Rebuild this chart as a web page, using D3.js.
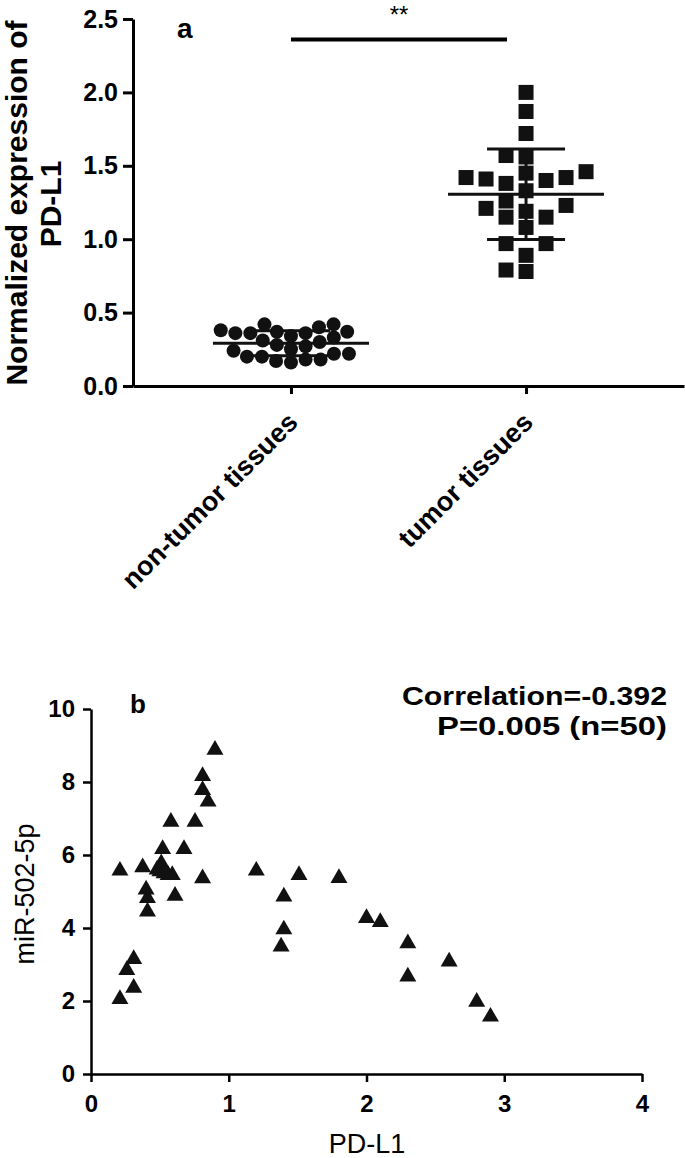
<!DOCTYPE html>
<html>
<head>
<meta charset="utf-8">
<script src="https://cdn.jsdelivr.net/npm/d3@7"></script>
<style>
  body { margin: 0; background: #fff; }
  text { font-family: "Liberation Sans", Arial, sans-serif; fill: #000; }
</style>
</head>
<body>
<svg id="fig"></svg>
<script>
// ---- panel a : PD-L1 expression, scatter dot plot ----
var groups = ["non-tumor tissues", "tumor tissues"];
var nonTumor = [0.42, 0.42, 0.40, 0.38, 0.37, 0.37, 0.36, 0.36, 0.36, 0.34, 0.33, 0.31, 0.30,
                0.28, 0.27, 0.25, 0.24, 0.22, 0.22, 0.20, 0.20, 0.18, 0.18, 0.17, 0.16];
var tumor = [2.00, 1.87, 1.72, 1.56, 1.57, 1.46, 1.42, 1.41, 1.38, 1.40, 1.42, 1.45, 1.33,
             1.23, 1.19, 1.15, 1.15, 1.21, 1.26, 1.08, 0.97, 0.97, 0.89, 0.78, 0.79];
var yTicksA = [0, 0.5, 1.0, 1.5, 2.0, 2.5];
var sigLevel = 2.36;
var sigLabel = "**";

// ---- panel b : PD-L1 vs miR-502-5p ----
var pdl1 = [0.21, 0.26, 0.31, 0.31, 0.21, 0.375, 0.40, 0.41, 0.41, 0.50, 0.51, 0.52, 0.56,
            0.59, 0.58, 0.61, 0.675, 0.755, 0.81, 0.81, 0.85, 0.90, 0.81, 0.48, 0.53,
            1.20, 1.51, 1.40, 1.40, 1.38, 1.80, 2.00, 2.10, 2.30, 2.30, 2.60, 2.80, 2.90];
var mir502 = [2.05, 2.85, 3.15, 2.36, 5.57, 5.66, 5.05, 4.82, 4.45, 5.55, 5.77, 6.16, 5.45,
              5.45, 6.91, 4.88, 6.16, 6.91, 8.16, 7.78, 7.46, 8.88, 5.36, 5.60, 5.50,
              5.57, 5.45, 4.86, 3.96, 3.49, 5.37, 4.27, 4.16, 3.58, 2.67, 3.08, 1.98, 1.57];
var xTicksB = [0, 1, 2, 3, 4];
var yTicksB = [0, 2, 4, 6, 8, 10];
var statLines = ["Correlation=-0.392", "P=0.005 (n=50)"];

var svg = d3.select("#fig").attr("width", 685).attr("height", 1158);

// greedy beeswarm: lowest values first, each point as close to the centre as it fits
// round = elliptical clearance (w across, h up/down), else box clearance
function swarm(vals, y, w, h, round) {
  var order = d3.range(vals.length).sort(function(i, j) { return vals[i] - vals[j]; });
  var placed = [], out = [];
  order.forEach(function(i, k) {
    var py = y(vals[i]);
    var near = placed.filter(function(p) { return Math.abs(p.y - py) < h; });
    var cands = [0];
    near.forEach(function(p) {
      var t = (p.y - py) / h;
      var d = round ? w * Math.sqrt(1 - t * t) : w;
      cands.push(p.x - d, p.x + d);
    });
    cands.sort(function(a, b) { return Math.abs(a) - Math.abs(b) || (k % 2 ? a - b : b - a); });
    var x = cands.find(function(c) {
      return near.every(function(p) {
        var dx = (p.x - c) / w, dy = (p.y - py) / h;
        return round ? dx * dx + dy * dy >= 0.999 : Math.abs(p.x - c) >= w - 0.01;
      });
    });
    placed.push({x: x, y: py});
    out[i] = x;
  });
  return out;
}

function styleAxis(g, sw, fs) {
  g.attr("font-family", null).attr("font-size", null);
  g.selectAll("path, line").attr("stroke", "#000").attr("stroke-width", sw);
  g.selectAll("text").attr("font-size", fs).attr("font-weight", "bold");
}

// ===== panel a =====
var xA = d3.scalePoint().domain(groups).range([133, 684]).padding(0.672);
var yA = d3.scaleLinear().domain([0, 2.5]).range([386, 19]);

var gA = svg.append("g");

gA.append("g")
  .attr("transform", "translate(133,0)")
  .call(d3.axisLeft(yA).tickValues(yTicksA).tickFormat(d3.format(".1f"))
        .tickSize(10).tickSizeOuter(0).tickPadding(5))
  .call(styleAxis, 3, 25);

var xAxisA = gA.append("g")
  .attr("transform", "translate(0,386)")
  .call(d3.axisBottom(xA).tickSize(8).tickSizeOuter(0))
  .call(styleAxis, 3, 27);
xAxisA.selectAll(".tick text")
  .attr("x", 0).attr("y", 0).attr("dy", 0)
  .attr("text-anchor", "end")
  .attr("transform", "translate(8,38) rotate(-45)");

// points
var offNT = swarm(nonTumor, yA, 15, 13, true);
gA.append("g").selectAll("circle").data(nonTumor).join("circle")
  .attr("cx", function(d, i) { return xA(groups[0]) + offNT[i]; })
  .attr("cy", function(d) { return yA(d); })
  .attr("r", 7)
  .attr("fill", "#111");

var offT = swarm(tumor, yA, 20, 16, false);
gA.append("g").selectAll("rect").data(tumor).join("rect")
  .attr("x", function(d, i) { return xA(groups[1]) + offT[i] - 7.5; })
  .attr("y", function(d) { return yA(d) - 7.5; })
  .attr("width", 15).attr("height", 15)
  .attr("fill", "#111");

// mean +/- SD bars
[nonTumor, tumor].forEach(function(vals, gi) {
  var cx = xA(groups[gi]), m = d3.mean(vals), sd = d3.deviation(vals);
  var eb = gA.append("g").attr("stroke", "#111").attr("stroke-width", 3);
  eb.append("line").attr("x1", cx - 78).attr("x2", cx + 78).attr("y1", yA(m)).attr("y2", yA(m));
  eb.append("line").attr("x1", cx).attr("x2", cx).attr("y1", yA(m + sd)).attr("y2", yA(m - sd));
  [m + sd, m - sd].forEach(function(v) {
    eb.append("line").attr("x1", cx - 39).attr("x2", cx + 39).attr("y1", yA(v)).attr("y2", yA(v));
  });
});

// significance bar
var sx1 = xA(groups[0]), sx2 = xA(groups[1]) - 19;
gA.append("line")
  .attr("x1", sx1).attr("x2", sx2).attr("y1", yA(sigLevel)).attr("y2", yA(sigLevel))
  .attr("stroke", "#000").attr("stroke-width", 4);
gA.append("text")
  .attr("x", (sx1 + sx2) / 2).attr("y", yA(sigLevel) - 17)
  .attr("text-anchor", "middle").attr("font-size", 24)
  .text(sigLabel);

gA.append("text").attr("x", 177).attr("y", 38)
  .attr("font-size", 28).attr("font-weight", "bold").text("a");

gA.append("text").attr("transform", "translate(27,203) rotate(-90)")
  .attr("text-anchor", "middle").attr("font-size", 30).attr("font-weight", "bold")
  .text("Normalized expression of");
gA.append("text").attr("transform", "translate(61,204) rotate(-90)")
  .attr("text-anchor", "middle").attr("font-size", 30).attr("font-weight", "bold")
  .text("PD-L1");

// ===== panel b =====
var xB = d3.scaleLinear().domain([0, 4]).range([91, 642]);
var yB = d3.scaleLinear().domain([0, 10]).range([1074, 709]);

var gB = svg.append("g");

gB.append("g")
  .attr("transform", "translate(91,0)")
  .call(d3.axisLeft(yB).tickValues(yTicksB).tickFormat(d3.format("d"))
        .tickSize(8).tickSizeOuter(0).tickPadding(8))
  .call(styleAxis, 2.5, 24);

gB.append("g")
  .attr("transform", "translate(0,1074)")
  .call(d3.axisBottom(xB).tickValues(xTicksB).tickFormat(d3.format("d"))
        .tickSize(8).tickSizeOuter(0).tickPadding(13))
  .call(styleAxis, 2.5, 24);

var tri = d3.symbol().type(d3.symbolTriangle).size(125);
gB.append("g").selectAll("path").data(pdl1).join("path")
  .attr("transform", function(d, i) { return "translate(" + xB(d) + "," + yB(mir502[i]) + ")"; })
  .attr("d", tri)
  .attr("fill", "#111");

gB.append("text").attr("x", 130).attr("y", 713)
  .attr("font-size", 26).attr("font-weight", "bold").text("b");

gB.append("text").attr("x", 367).attr("y", 1153)
  .attr("text-anchor", "middle").attr("font-size", 27).text("PD-L1");
gB.append("text").attr("transform", "translate(34,894) rotate(-90)")
  .attr("text-anchor", "middle").attr("font-size", 27).text("miR-502-5p");

var statLen = [265, 230];
statLines.forEach(function(s, i) {
  gB.append("text")
    .attr("x", 667).attr("y", 705 + i * 30)
    .attr("text-anchor", "end").attr("font-size", 26).attr("font-weight", "bold")
    .attr("textLength", statLen[i]).attr("lengthAdjust", "spacingAndGlyphs")
    .text(s);
});
</script>
</body>
</html>
